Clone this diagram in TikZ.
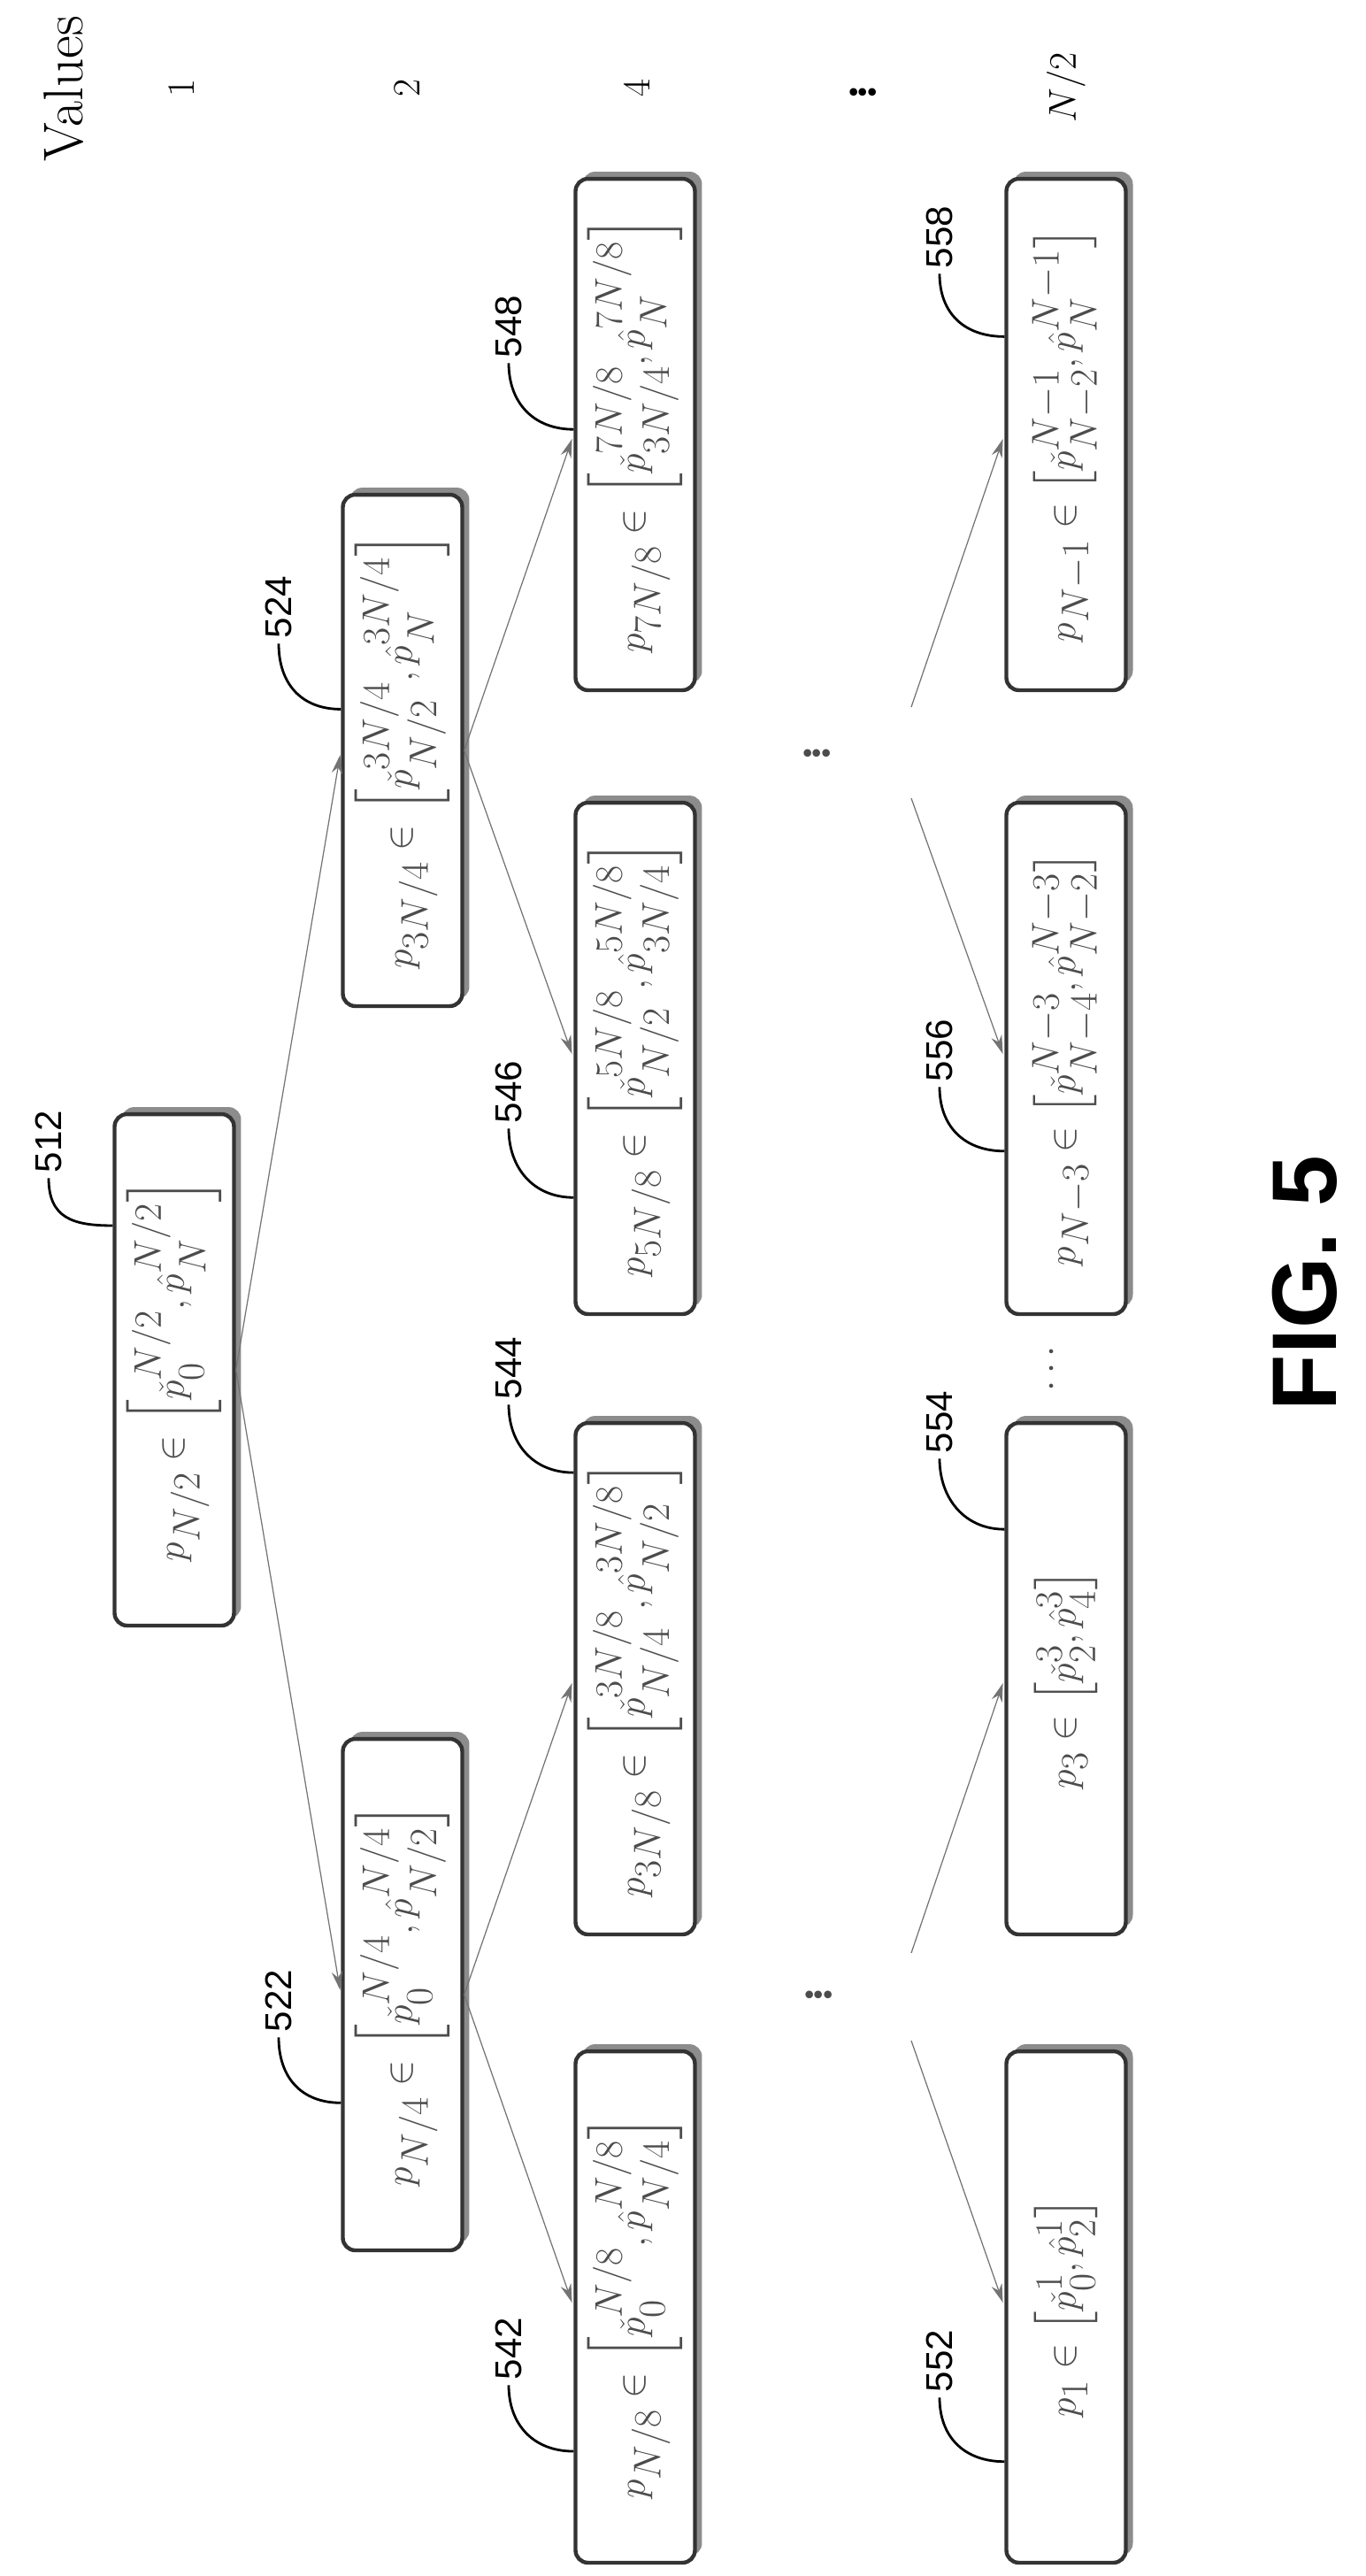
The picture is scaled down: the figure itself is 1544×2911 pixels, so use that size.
\documentclass[tikz,border=0pt]{standalone}
\usepackage{amsmath}
\usepackage{amssymb}
\usepackage{fontspec}
\setsansfont{Liberation Sans}
\usetikzlibrary{arrows.meta,calc,shadows}

\newcommand{\pchk}[2]{\check{p}_{#1}^{#2}}
\newcommand{\phat}[2]{\hat{p}_{#1}^{#2}}

\tikzset{
  interval/.style={draw=black!80, line width=2.5pt, rounded corners=8pt, fill=white,
    rotate=90, minimum width=11.56cm, minimum height=2.7cm, inner sep=0pt,
    text=black!70, font=\fontsize{34}{40}\selectfont,
    drop shadow={shadow xshift=0.16cm, shadow yshift=0.16cm, fill=black!45, opacity=1}},
  tag/.style={rotate=90, font=\fontsize{24}{28}\selectfont\sffamily},
  big/.style={rotate=90, font=\fontsize{36}{40}\selectfont},
  skip/.style={rotate=90, font=\fontsize{60}{60}\selectfont, text=black!70},
  branch/.style={-{Stealth[length=12pt,width=7pt]}, draw=black!55, line width=0.7pt, shorten >=3pt},
  leader/.style={line width=1.6pt}
}

\begin{document}
\begin{tikzpicture}[x=0.02cm, y=-0.02cm]
\useasboundingbox (0,0) rectangle (1544,2911);

% value counts per level
\node[big] (vals) at (72,100) {Values};
\node[big] (v1) at (205,99) {$1$};
\node[big] (v2) at (460,99) {$2$};
\node[big] (v4) at (720,99) {$4$};
\node[skip, text=black] (vdots) at (970,104) {$\vdots$};
\node[big] (vN) at (1205,99) {$N/2$};

% intervals
\node[interval] (b512) at (197,1548) {$p_{N/2}\in\left[\pchk{0}{N/2},\phat{N}{N/2}\right]$};

\node[interval] (b522) at (455,2254) {$p_{N/4}\in\left[\pchk{0}{N/4},\phat{N/2}{N/4}\right]$};
\node[interval] (b524) at (455,848) {$p_{3N/4}\in\left[\pchk{N/2}{3N/4},\phat{N}{3N/4}\right]$};

\node[interval] (b542) at (718,2607) {$p_{N/8}\in\left[\pchk{0}{N/8},\phat{N/4}{N/8}\right]$};
\node[interval] (b544) at (718,1897) {$p_{3N/8}\in\left[\pchk{N/4}{3N/8},\phat{N/2}{3N/8}\right]$};
\node[interval] (b546) at (718,1196) {$p_{5N/8}\in\left[\pchk{N/2}{5N/8},\phat{3N/4}{5N/8}\right]$};
\node[interval] (b548) at (718,491) {$p_{7N/8}\in\left[\pchk{3N/4}{7N/8},\phat{N}{7N/8}\right]$};

\node[interval] (b552) at (1205,2607) {$p_{1}\in\left[\pchk{0}{1},\phat{2}{1}\right]$};
\node[interval] (b554) at (1205,1897) {$p_{3}\in\left[\pchk{2}{3},\phat{4}{3}\right]$};
\node[interval] (b556) at (1205,1196) {$p_{N-3}\in\left[\pchk{N-4}{N-3},\phat{N-2}{N-3}\right]$};
\node[interval] (b558) at (1205,491) {$p_{N-1}\in\left[\pchk{N-2}{N-1},\phat{N}{N-1}\right]$};

% skipped levels
\node[skip] (d1) at (920,2254) {$\vdots$};
\node[skip] (d2) at (918,851) {$\vdots$};
\node[skip] (d3) at (1190,1543) {$\cdots$};

\coordinate (a552) at (1030,2306);
\coordinate (a554) at (1030,2207);
\coordinate (a556) at (1030,902);
\coordinate (a558) at (1030,799);

\draw[branch] (b512.south) -- (b522.north);
\draw[branch] (b512.south) -- (b524.north);
\draw[branch] (b522.south) -- (b542.north);
\draw[branch] (b522.south) -- (b544.north);
\draw[branch] (b524.south) -- (b546.north);
\draw[branch] (b524.south) -- (b548.north);
\foreach \n in {552,554,556,558}
  \draw[branch] (a\n) -- (b\n.north);

% reference numerals
\node[tag] (l512) at (55,1290) {512};
\node[tag] (l522) at (315,2261) {522};
\node[tag] (l524) at (315,686) {524};
\node[tag] (l542) at (575,2654) {542};
\node[tag] (l544) at (575,1546) {544};
\node[tag] (l546) at (575,1234) {546};
\node[tag] (l548) at (575,369) {548};
\node[tag] (l552) at (1062,2668) {552};
\node[tag] (l554) at (1062,1607) {554};
\node[tag] (l556) at (1062,1187) {556};
\node[tag] (l558) at (1062,268) {558};

\foreach \n/\f in {512/0.22,522/0.71,524/0.42,542/0.78,544/0.10,546/0.77,548/0.49,552/0.80,554/0.21,556/0.68,558/0.31}
  \draw[leader] (l\n.west) .. controls +(0,45) and +(-45,0) .. ($(b\n.north east)!\f!(b\n.north west)$);

\node[rotate=90, font=\fontsize{59}{60}\selectfont\sffamily\bfseries] (fig) at (1475,1450) {FIG. 5};
\end{tikzpicture}
\end{document}
